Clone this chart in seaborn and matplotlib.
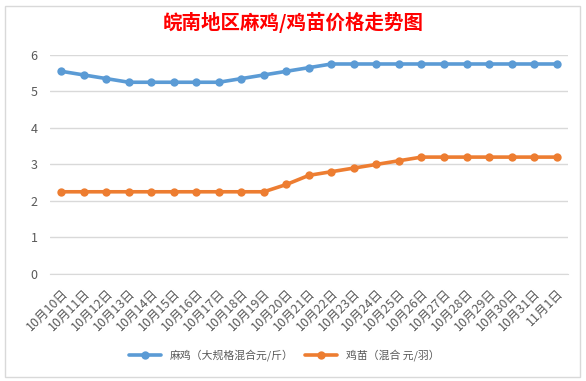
import pandas as pd
import matplotlib.pyplot as plt
import seaborn as sns
from matplotlib.patches import Rectangle

# 数据
dates = ['10月10日', '10月11日', '10月12日', '10月13日', '10月14日', '10月15日',
         '10月16日', '10月17日', '10月18日', '10月19日', '10月20日', '10月21日',
         '10月22日', '10月23日', '10月24日', '10月25日', '10月26日', '10月27日',
         '10月28日', '10月29日', '10月30日', '10月31日', '11月1日']
maji = [5.55, 5.45, 5.35, 5.25, 5.25, 5.25, 5.25, 5.25, 5.35, 5.45, 5.55, 5.65,
        5.75, 5.75, 5.75, 5.75, 5.75, 5.75, 5.75, 5.75, 5.75, 5.75, 5.75]
jimiao = [2.25, 2.25, 2.25, 2.25, 2.25, 2.25, 2.25, 2.25, 2.25, 2.25, 2.45, 2.7,
          2.8, 2.9, 3.0, 3.1, 3.2, 3.2, 3.2, 3.2, 3.2, 3.2, 3.2]
series_names = ['麻鸡（大规格混合元/斤）', '鸡苗（混合 元/羽）']

df = pd.DataFrame({'日期': dates * 2,
                   '价格': maji + jimiao,
                   '品种': [series_names[0]] * len(dates) + [series_names[1]] * len(dates)})
df['x'] = list(range(len(dates))) * 2

sns.set_style('white')
plt.rcParams['font.family'] = ['Noto Sans CJK SC', 'DejaVu Sans']

fig = plt.figure(figsize=(5.86, 3.81), dpi=100)
ax = fig.add_axes([0.0853, 0.281, 0.8837, 0.575])

# 外框
fig.patches.append(Rectangle((0.008, 0.01), 0.982, 0.975, transform=fig.transFigure,
                             fill=False, edgecolor='#d9d9d9', lw=1))

sns.lineplot(data=df, x='x', y='价格', hue='品种', palette=['#5b9bd5', '#ed7d31'],
             marker='o', markersize=6, markeredgewidth=0, linewidth=2.6, ax=ax)

ax.set_xlim(-0.5, len(dates) - 0.5)
ax.set_ylim(0, 6)
ax.set_yticks(range(0, 7))
ax.yaxis.grid(True, color='#d9d9d9', lw=1)
ax.set_xticks(range(len(dates)))
ax.set_xticklabels(dates, rotation=45, ha='right', rotation_mode='anchor',
                   fontsize=9, color='#595959')
ax.set_xticks([i - 0.5 for i in range(len(dates) + 1)], minor=True)
ax.tick_params(axis='x', which='major', length=0, pad=9)
ax.tick_params(axis='x', which='minor', length=4, color='#d9d9d9', direction='out')
ax.tick_params(axis='y', length=0, labelsize=9, labelcolor='#595959', pad=9)
for s in ['top', 'right', 'left']:
    ax.spines[s].set_visible(False)
ax.spines['bottom'].set_color('#d9d9d9')
ax.set_xlabel('')
ax.set_ylabel('')

fig.text(0.5, 0.94, '皖南地区麻鸡/鸡苗价格走势图', ha='center', va='center',
         color='red', fontsize=14, fontweight='bold')

ax.legend(loc='center', frameon=False, ncol=2, fontsize=7.8, handlelength=3,
          columnspacing=1.0, labelcolor='#595959')
leg = ax.get_legend()
leg.set_bbox_to_anchor((0.485, 0.068), transform=fig.transFigure)

fig.savefig('out.png', dpi=100)
